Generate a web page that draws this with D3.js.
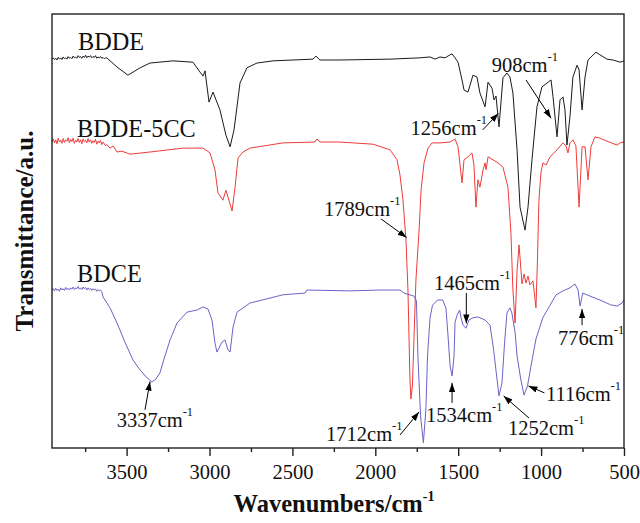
<!DOCTYPE html>
<html><head><meta charset="utf-8">
<script src="https://cdn.jsdelivr.net/npm/d3@7"></script>
<style>body{margin:0;background:#fff;} svg{display:block;} text{font-family:"Liberation Serif","Times New Roman",serif;}</style>
</head><body><svg id="c" width="640" height="523"></svg>
<script>
// ---- data (wavenumber cm-1, transmittance a.u. with vertical offsets) ----
const seriesNames = ["BDDE", "BDDE-5CC", "BDCE"];
const seriesColors = ["#1a1a1a", "#f03a3a", "#6a64c4"];

// noisy high-wavenumber segments, sampled every 7.5 cm-1
const bddeNoiseVal = [89.6,89.9,89.5,89.8,89.4,90.0,89.6,89.9,89.5,90.1,89.7,89.9,89.6,90.2,89.8,90.0,89.7,90.3,89.9,90.1,89.8,90.4,90.0,90.2,89.8,90.3,90.0,90.5,89.9,90.3,90.1,90.4,89.9,90.2,90.0,90.4,89.8,90.1,89.9,90.2,89.8,90.0,89.7,89.9,89.9];
const ccNoiseVal = [70.6,71.2,70.3,71.0,70.1,71.4,70.5,70.9,70.2,71.3,70.4,71.0,70.7,71.5,70.3,71.1,70.6,71.4,70.2,70.9,70.5,71.3,70.4,71.0,70.1,71.2,70.6,70.9,70.3,71.3,70.5,71.0,70.2,70.8,70.4,71.1,70.0,70.7,70.3,70.9,69.9,70.5,70.1,69.7,69.9];
const bdceNoiseVal = [36.4,36.7,36.2,36.8,36.3,36.6,36.1,36.9,36.4,36.7,36.3,37.0,36.5,36.8,36.4,36.9,36.6,37.1,36.5,36.9,36.7,37.2,36.6,36.9,36.5,37.1,36.7,37.0,36.4,36.9,36.5,36.8,36.3,36.7,36.4,36.6,36.1,36.5,36.2,36.4,36.0];

const bddeWave = [3558,3492,3419,3359,3220,3100,3057,3039,3027,3003,2979,2937,2901,2876,2852,2816,2774,2714,2617,2376,2358,2334,2213,1911,1730,1670,1640,1610,1580,
 1549,1537,1519,1501,1477,1465,1441,1411,1387,1369,1338,1320,1296,1284,1272,1254,1230,1206,1188,1170,1145,1127,1097,1079,1055,1025,995,964,940,928,904,886,868,856,844,826,808,783,771,753,735,717,669,645,603,566,524,500];
const bddeVal = [87.8,85.9,87.6,88.7,89.2,88.9,86.6,85.7,86.9,79.7,82.0,77.9,72.1,69.4,73.3,84.1,87.6,88.7,89.2,89.6,90.3,89.4,89.4,89.6,89.9,90.1,89.6,90.1,89.9,
 90.6,90.8,89.9,88.9,84.8,82.5,82.0,85.9,85.5,81.8,78.6,84.3,82.9,80.2,81.1,74.0,85.3,86.4,85.5,81.8,68.7,55.5,50.2,55.5,66.4,78.6,83.2,84.1,84.8,80.9,71.7,80.2,80.9,77.9,69.8,76.3,85.5,88.2,87.1,77.9,85.5,89.4,91.2,90.6,89.6,89.4,88.9,89.2];

const ccWave = [3600,3582,3558,3528,3480,3359,3160,3039,2997,2967,2949,2919,2901,2883,2864,2846,2828,2798,2756,2557,2364,2352,2334,2213,2014,1911,1869,1851,1833,1815,1803,1791,1785,1776,1767,1755,1736,1724,1706,1682,1658,1610,
 1549,1519,1501,1477,1465,1441,1417,1405,1393,1381,1369,1350,1338,1332,1320,1290,1260,1230,1200,1182,1170,1157,1145,1133,1121,1115,1103,1091,1079,1067,1049,1031,1022,1013,1001,989,970,946,904,868,850,838,826,808,790,771,753,735,717,699,675,645,603,542,524,500];
const ccVal = [69.1,69.6,68.2,68.4,67.7,68.2,69.1,69.1,68.0,64.1,58.8,57.1,59.4,57.1,54.6,60.1,66.8,68.2,69.1,70.3,70.5,71.2,70.5,70.5,70.0,68.7,66.4,62.9,57.1,47.9,36.4,15.7,11.3,14.5,24.9,38.7,50.2,59.4,65.7,69.1,70.3,70.3,
 70.5,71.2,69.4,61.1,66.4,67.1,68.0,65.2,55.5,61.8,60.1,64.1,65.7,64.1,67.1,66.4,65.7,64.7,60.1,49.5,36.4,28.8,40.8,46.8,40.8,37.8,40.1,38.0,39.6,37.6,38.5,32.3,43.3,57.1,63.4,65.7,65.2,67.1,68.7,70.3,69.6,68.0,70.3,71.0,69.6,55.5,69.4,69.4,61.8,69.4,71.7,71.4,70.7,69.8,70.3,70.5];

const bdceWave = [3642,3600,3558,3510,3462,3419,3383,3347,3323,3299,3269,3238,3196,3136,3075,3039,3009,2985,2967,2955,2943,2925,2907,2888,2876,2858,2834,2756,2557,2424,2412,2153,1972,1851,1827,1767,1752,1743,1727,1710,1695,1685,1670,1655,1624,1594,1574,1563,
 1549,1537,1525,1519,1507,1491,1483,1471,1453,1435,1411,1381,1338,1308,1287,1266,1254,1236,1220,1206,1188,1176,1157,1145,1123,1103,1082,1061,1031,990,949,910,868,826,796,777,765,749,705,645,581,542,512,500];
const bdceVal = [34.8,32.3,28.8,24.4,20.3,18.0,16.4,15.2,15.9,17.3,21.2,24.9,28.8,31.3,31.8,32.5,32.0,29.5,24.2,22.1,23.0,24.4,24.9,22.6,22.1,27.9,31.3,33.4,35.3,35.7,36.4,36.2,36.4,36.4,35.7,35.0,33.9,21.2,7.4,1.2,8.8,21.2,30.0,32.9,34.1,34.1,32.3,26.7,
 18.9,16.6,21.2,29.0,30.6,31.8,30.0,28.3,27.6,29.5,30.0,30.2,29.5,28.3,22.8,15.9,12.0,15.0,24.4,31.1,32.3,31.1,26.7,21.2,15.9,12.2,14.3,18.9,25.1,30.0,32.7,35.3,36.2,36.9,37.8,36.4,32.7,35.7,35.0,34.1,33.0,32.7,33.4,34.1];

const xTickValues = [3500,3000,2500,2000,1500,1000,500];
const xMinorTicks = [3750,3250,2750,2250,1750,1250,750];
const peakLabels = ["908","1256","1789","3337","1712","1534","1465","1252","1116","776"];

// ---- layout (annotation positions in data units) ----
const W = 640, H = 523, M = {l:52, t:14, r:16, b:75};
const labelPos = [[3793,91.7],[3799,71.7],[3799,38.3]];
const peakLayout = {
  "908":  {t:[1298,86.7], a:[1091,84.8, 940,76.0]},
  "1256": {t:[1787,72.1], a:[1352,73.3,1258,77.1]},
  "1789": {t:[2309,53.5], a:[1966,52.8,1811,48.5]},
  "3337": {t:[3560,4.9],  a:[3389,8.8,3359,15.3]},
  "1712": {t:[2297,1.5],  a:[1851,3.0,1736,8.3]},
  "1534": {t:[1694,6.1],  a:[1537,10.4,1537,15.0]},
  "1465": {t:[1646,36.5], a:[1451,35.7,1451,28.7]},
  "1252": {t:[1200,3.0],  a:[1073,6.9,1226,12.0]},
  "1116": {t:[970,10.8],  a:[980,12.7,1076,14.3]},
  "776":  {t:[898,23.7],  a:[753,28.3,753,32.0]}
};

const svg = d3.select("#c");
const x = d3.scaleLinear().domain([3950,500]).range([M.l, W-M.r]);
const y = d3.scaleLinear().domain([0,100]).range([H-M.b, M.t]);

svg.append("defs").append("marker").attr("id","arr")
  .attr("viewBox","0 0 10 10").attr("refX",10).attr("refY",5)
  .attr("markerWidth",9).attr("markerHeight",9).attr("markerUnits","userSpaceOnUse")
  .attr("orient","auto")
  .append("path").attr("d","M0,1.5 L10,5 L0,8.5 Z").attr("fill","#000");

// spectra
const noiseGrid = n => d3.range(n).map(i => 3950 - 7.5*i);
const line = d3.line().x(d=>x(d[0])).y(d=>y(d[1]));
const sets = [[bddeNoiseVal,bddeWave,bddeVal],[ccNoiseVal,ccWave,ccVal],[bdceNoiseVal,bdceWave,bdceVal]];
sets.forEach((s,i)=>{
  const g = noiseGrid(s[0].length);
  const pts = g.map((w,j)=>[w,s[0][j]]).concat(s[1].map((w,j)=>[w,s[2][j]]));
  svg.append("path").datum(pts).attr("d",line).attr("fill","none")
    .attr("stroke",seriesColors[i]).attr("stroke-width",1).attr("stroke-linejoin","round");
});

// frame
svg.append("rect").attr("x",M.l).attr("y",M.t).attr("width",W-M.l-M.r).attr("height",H-M.t-M.b)
  .attr("fill","none").attr("stroke","#222").attr("stroke-width",1.4);

// axis
const gx = svg.append("g").attr("transform",`translate(0,${H-M.b})`)
  .call(d3.axisBottom(x).tickValues(xTickValues).tickSize(8).tickPadding(8.5).tickFormat(d3.format("d")));
gx.select(".domain").remove();
gx.selectAll(".tick line").attr("stroke","#222").attr("stroke-width",1.4);
gx.selectAll(".tick text").attr("font-size",20.5).attr("fill","#111").style("font-family","Liberation Serif");
const gm = svg.append("g").attr("transform",`translate(0,${H-M.b})`)
  .call(d3.axisBottom(x).tickValues(xMinorTicks).tickSize(4).tickFormat(""));
gm.select(".domain").remove();
gm.selectAll(".tick line").attr("stroke","#222").attr("stroke-width",1.4);

// axis titles
const xt = svg.append("text").attr("x",334).attr("y",512).attr("text-anchor","middle")
  .attr("font-size",24.5).attr("font-weight","bold").attr("fill","#111");
xt.append("tspan").text("Wavenumbers/cm");
xt.append("tspan").attr("font-size",14).attr("dy",-11).text("-1");
svg.append("text").attr("transform","translate(33,231) rotate(-90)").attr("text-anchor","middle")
  .attr("font-size",25).attr("font-weight","bold").attr("fill","#111").text("Transmittance/a.u.");

// series labels
seriesNames.forEach((n,i)=>{
  svg.append("text").attr("x",x(labelPos[i][0])).attr("y",y(labelPos[i][1]))
    .attr("font-size",24.3).attr("fill","#111").text(n);
});

// peak annotations
peakLabels.forEach(p=>{
  const L = peakLayout[p];
  const t = svg.append("text").attr("x",x(L.t[0])).attr("y",y(L.t[1])).attr("font-size",20.5).attr("fill","#111");
  t.append("tspan").text(p+"cm");
  t.append("tspan").attr("font-size",12.5).attr("dy",-11).text("-1");
  svg.append("line").attr("x1",x(L.a[0])).attr("y1",y(L.a[1])).attr("x2",x(L.a[2])).attr("y2",y(L.a[3]))
    .attr("stroke","#000").attr("stroke-width",1).attr("marker-end","url(#arr)");
});
</script></body></html>
